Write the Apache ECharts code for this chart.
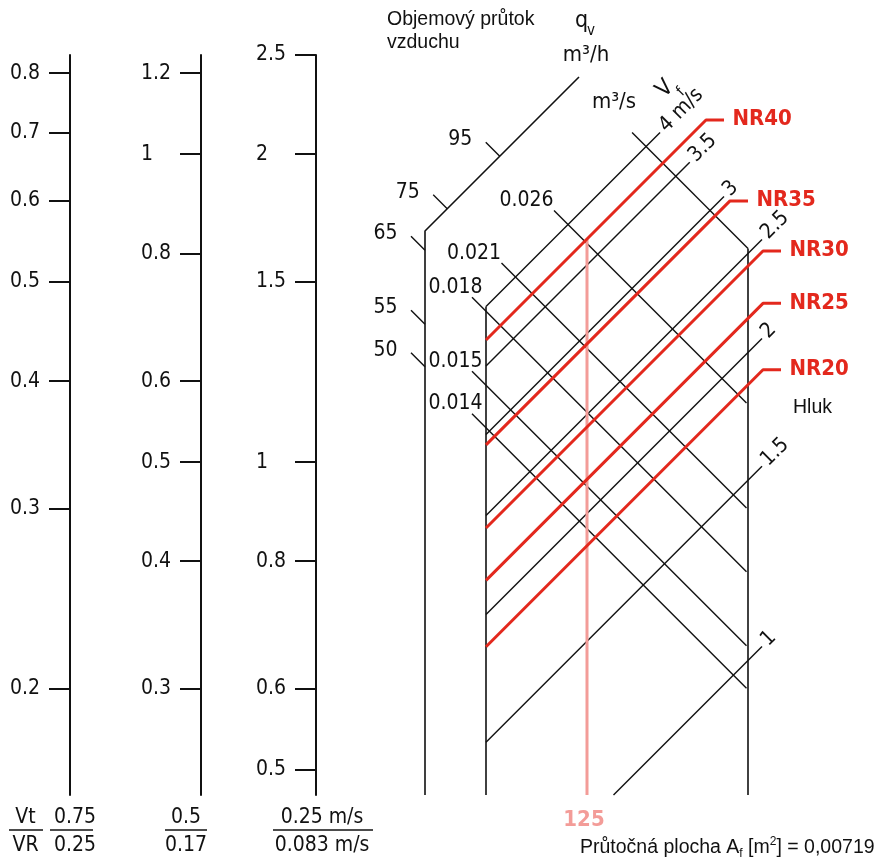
<!DOCTYPE html>
<html><head><meta charset="utf-8">
<script src="https://cdn.jsdelivr.net/npm/echarts@6/dist/echarts.min.js"></script>
<style>html,body{margin:0;padding:0;background:#fff}#c{width:879px;height:861px}</style>
</head><body><div id="c"></div>
<script>
// ---------------- data ----------------
const vtRatioTicks = [0.2, 0.3, 0.4, 0.5, 0.6, 0.7, 0.8];
const midScaleTicks = [0.3, 0.4, 0.5, 0.6, 0.8, 1, 1.2];
const velScaleTicks = [0.5, 0.6, 0.8, 1, 1.5, 2, 2.5];
const scaleTopValues = [0.8333, 1.25, 2.5];
const footNumerators = ['0.75', '0.5', '0.25 m/s'];
const footDenominators = ['0.25', '0.17', '0.083 m/s'];
const faceVelocities = [1, 1.5, 2, 2.5, 3, 3.5, 4];
const faceVelocityLabels = ['1', '1.5', '2', '2.5', '3', '3.5', '4 m/s'];
const flowM3h = [50, 55, 65, 75, 95];
const flowM3s = ['0.014', '0.015', '0.018', '0.021', '0.026'];
const flowFrameM3h = 135;
const noiseLevels = ['NR20', 'NR25', 'NR30', 'NR35', 'NR40'];
const noiseVelocities = [1.86, 2.16, 2.43, 2.93, 3.71];
const ductSize = 125;
const faceArea = 0.00719;

// ---------------- layout ----------------
const L = {
  K: 1023, axisTop: 55, axisBottom: 795, axisX: [70, 201, 316],
  cRef: 1408.5, dRef: -58.3, qRef: 50,
  outerX: 425, outerC: 656, outerEndX: 579,
  innerLeftX: 486, innerRightX: 748, bottom: 795, over: 14,
  ductX: 587, nrEndX: [763, 763, 763, 730, 706], leader: 18
};
const FONT_TECH = "'DejaVu Sans Condensed','Liberation Sans Narrow','DejaVu Sans',sans-serif";
const FONT_SANS = "'Liberation Sans',Arial,sans-serif";
const RED = '#e3281d', PINK = '#f39c98', BLACK = '#111';

const lg = Math.log10;
const cV = v => L.cRef - L.K * lg(v);
const dQ = q => L.dRef - L.K * lg(q / L.qRef);
const c4 = cV(Math.max(...faceVelocities));
const dEdge = dQ(flowFrameM3h);

function velEnds(c) {
  const sx = Math.max(L.innerLeftX, c - L.bottom);
  let ex = (c - dEdge) / 2;
  if (ex > L.innerRightX) ex = L.innerRightX;
  ex += L.over;
  return [[sx, c - sx], [ex, c - ex]];
}
function flowEnds(d, endX) {
  let cx = (c4 - d) / 2;
  if (cx < L.innerLeftX) cx = L.innerLeftX;
  const sx = cx - L.over;
  return [[sx, sx + d], [endX, endX + d]];
}

// ---------------- axes ----------------
const grids = [], xAxes = [], yAxes = [];
const leftTicks = [vtRatioTicks, midScaleTicks, velScaleTicks];
const span = (L.axisBottom - L.axisTop) / L.K;
for (let i = 0; i < 3; i++) {
  const ticks = leftTicks[i];
  const logs = ticks.map(lg);
  const mx = lg(scaleTopValues[i]);
  grids.push({left: L.axisX[i], top: L.axisTop, height: L.axisBottom - L.axisTop, width: 30});
  xAxes.push({gridIndex: i, type: 'value', show: false, min: 0, max: 1});
  yAxes.push({
    gridIndex: i, type: 'value', position: 'left', min: mx - span, max: mx,
    axisLine: {show: true, onZero: false, lineStyle: {color: BLACK, width: 2}},
    axisTick: {show: true, length: 21, inside: false, customValues: logs, lineStyle: {color: BLACK, width: 2}},
    axisLabel: {show: true, customValues: logs, margin: 60, align: 'left', verticalAlign: 'middle',
      fontSize: 21, fontFamily: FONT_TECH, color: BLACK,
      formatter: v => String(ticks.reduce((b, t) => Math.abs(lg(t) - v) < Math.abs(lg(b) - v) ? t : b))},
    splitLine: {show: false}
  });
}
grids.push({left: 0, top: 0, width: 879, height: 861});
xAxes.push({gridIndex: 3, type: 'value', min: 0, max: 879, show: false});
yAxes.push({gridIndex: 3, type: 'value', min: 0, max: 861, inverse: true, show: false});

// ---------------- series ----------------
const series = [];
function addLine(pts, color, width, z) {
  series.push({type: 'line', xAxisIndex: 3, yAxisIndex: 3, data: pts, symbol: 'none', silent: true,
    animation: false, lineStyle: {color, width, cap: 'butt'}, z: z || 2});
}
function addLabels(items, label) {
  series.push({type: 'scatter', xAxisIndex: 3, yAxisIndex: 3, symbol: 'circle', symbolSize: 1, silent: true,
    animation: false, itemStyle: {color: 'rgba(0,0,0,0)', opacity: 1}, z: 6,
    data: items.map(it => ({name: it.text, value: it.pos})),
    label: Object.assign({show: true, position: [0, 0], formatter: p => p.name, color: BLACK,
      opacity: 1, textBorderWidth: 0, fontFamily: FONT_TECH, fontSize: 21}, label)});
}

// frames
addLine([[L.outerX, L.bottom], [L.outerX, L.outerC - L.outerX], [L.outerEndX, L.outerC - L.outerEndX]], BLACK, 1.6);
addLine([[L.innerLeftX, L.bottom], [L.innerLeftX, c4 - L.innerLeftX]], BLACK, 1.6);
addLine([[L.innerRightX, L.bottom], [L.innerRightX, L.innerRightX + dEdge]], BLACK, 1.6);
addLine(flowEnds(dEdge, L.innerRightX), BLACK, 1.4);

// velocity lines
const velLabelItems = [];
faceVelocities.forEach((v, i) => {
  const pts = velEnds(cV(v));
  addLine(pts, BLACK, 1.4);
  velLabelItems.push({text: faceVelocityLabels[i], pos: [pts[1][0] + 3, pts[1][1] - 3]});
});
addLabels(velLabelItems, {rotate: 45, align: 'left', verticalAlign: 'middle'});

// flow lines + qv ticks
const flowLabelItems = [], qvLabelItems = [];
flowM3h.forEach((q, i) => {
  const d = dQ(q);
  const pts = flowEnds(d, L.innerRightX - 1.5);
  addLine(pts, BLACK, 1.4);
  flowLabelItems.push({text: flowM3s[i], pos: [Math.max(pts[0][0], L.innerLeftX - 3), pts[0][1] - 9.5]});
  let cx = (L.outerC - d) / 2;
  if (cx < L.outerX) cx = L.outerX;
  const cy = cx + d;
  addLine([[cx - L.over, cy - L.over], [cx, cy]], BLACK, 1.4);
  qvLabelItems.push({text: String(q), pos: [cx - L.over - 13, cy - L.over - 2]});
});
addLabels(flowLabelItems, {align: 'right', verticalAlign: 'middle'});
addLabels(qvLabelItems, {align: 'right', verticalAlign: 'middle'});

// duct line
const nrTopC = cV(noiseVelocities[noiseVelocities.length - 1]);
addLine([[L.ductX, nrTopC - L.ductX], [L.ductX, L.bottom]], PINK, 3, 3);

// NR lines
const nrLabelItems = [];
noiseVelocities.forEach((v, i) => {
  const c = cV(v);
  const ex = L.nrEndX[i];
  const pts = [[L.innerLeftX, c - L.innerLeftX], [ex, c - ex], [ex + L.leader, c - ex]];
  addLine(pts, RED, 3, 4);
  nrLabelItems.push({text: noiseLevels[i], pos: [ex + L.leader + 9, c - ex]});
});
addLabels(nrLabelItems, {align: 'left', verticalAlign: 'middle', color: RED, fontWeight: 'bold', fontSize: 22});

// ---------------- annotations ----------------
function txt(text, x, y, font, align, opts) {
  return Object.assign({type: 'text', x, y, silent: true, z: 10,
    style: Object.assign({text, font, fill: BLACK, align: align || 'left', verticalAlign: 'middle',
      textAlign: align || 'left', textVerticalAlign: 'middle'}, (opts && opts.style) || {})},
    opts && opts.rotation != null ? {rotation: opts.rotation} : {});
}
function hline(x1, x2, y) {
  return {type: 'line', silent: true, shape: {x1, y1: y, x2, y2: y}, style: {stroke: BLACK, lineWidth: 1.5}};
}
const T21 = '21px ' + FONT_TECH, T15 = '15px ' + FONT_TECH, S20 = '19.5px ' + FONT_SANS;
const footCx = [75, 186, 322];
const footLine = [[50, 93], [165, 207], [273, 373]];
const graphics = [
  txt('Vt', 25.5, 818, T21, 'center'), txt('VR', 25.5, 846, T21, 'center'), hline(9, 43, 830)
];
for (let i = 0; i < 3; i++) {
  graphics.push(txt(footNumerators[i], footCx[i], 818, T21, 'center'));
  graphics.push(txt(footDenominators[i], footCx[i], 846, T21, 'center'));
  graphics.push(hline(footLine[i][0], footLine[i][1], 830));
}
graphics.push(
  txt('Objemový průtok', 387, 20, S20), txt('vzduchu', 387, 43, S20),
  txt('q', 575, 21, '23px ' + FONT_TECH), txt('v', 587, 31, T15),
  txt('m³/h', 586, 55, '22px ' + FONT_TECH, 'center'), txt('m³/s', 614, 102, '22px ' + FONT_TECH, 'center'),
  txt('V', 665, 89, '23px ' + FONT_TECH, 'center', {rotation: Math.PI / 4}),
  txt('f', 681, 92, T15, 'center', {rotation: Math.PI / 4}),
  txt('Hluk', 793, 408, S20),
  txt(String(ductSize), 584, 820, 'bold 22px ' + FONT_TECH, 'center', {style: {fill: PINK}}),
  txt('Průtočná plocha A{sub|f} [m{sup|2}] = ' + String(faceArea).replace('.', ','), 580, 848, S20, 'left',
    {style: {lineHeight: 24, rich: {
      sub: {fontSize: 12, lineHeight: 12, verticalAlign: 'bottom', fontFamily: FONT_SANS},
      sup: {fontSize: 12, lineHeight: 12, verticalAlign: 'top', fontFamily: FONT_SANS}}}})
);

const chart = echarts.init(document.getElementById('c'), null, {renderer: 'canvas'});
chart.setOption({
  animation: false, backgroundColor: '#fff',
  grid: grids, xAxis: xAxes, yAxis: yAxes, series,
  graphic: {elements: graphics}
});
</script></body></html>
